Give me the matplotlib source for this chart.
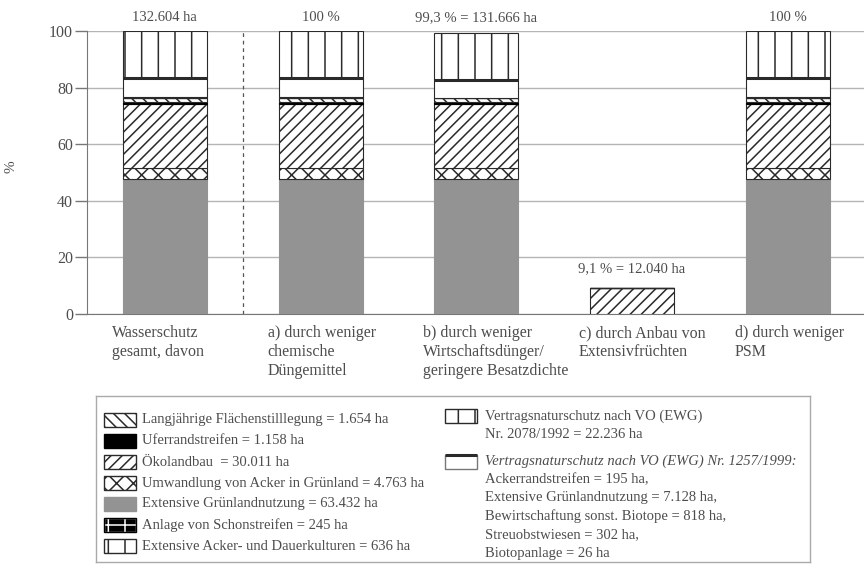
import matplotlib
matplotlib.use("Agg")
import matplotlib.pyplot as plt
from matplotlib.patches import Rectangle
import numpy as np

plt.rcParams['font.family'] = ['Liberation Serif', 'DejaVu Serif']
plt.rcParams['hatch.linewidth'] = 1.1

# Flächen in ha (Wasserschutz gesamt, a, b, c, d)
kategorien = ["Wasserschutz\ngesamt, davon",
              "a) durch weniger\nchemische\nDüngemittel",
              "b) durch weniger\nWirtschaftsdünger/\ngeringere Besatzdichte",
              "c) durch Anbau von\nExtensivfrüchten",
              "d) durch weniger\nPSM"]
gesamt_ha = 132604
gruenland_ha = [63432, 63432, 63432, 0, 63432]
umwandlung_ha = [4763, 4763, 4763, 0, 4763]
oeko_ha = [30011, 30011, 30011, 12040, 30011]
ufer_ha = [1158, 1158, 1158, 0, 1158]
stilllegung_ha = [1654, 1654, 1654, 0, 1654]
schon_ha = [245, 245, 245, 0, 245]
acker_ha = [636, 636, 0, 0, 636]
vo1257_ha = [8469, 8469, 8167, 0, 8469]
vo2078_ha = [22236, 22236, 22236, 0, 22236]
kopf_labels = ["132.604 ha", "100 %", "99,3 % = 131.666 ha", "9,1 % = 12.040 ha", "100 %"]

textfarbe = '#4d4d4d'
grau = '#939393'
dunkel = '#2a2a2a'

layers = [
    (gruenland_ha, dict(facecolor=grau, edgecolor=grau)),
    (umwandlung_ha, dict(facecolor='white', edgecolor=dunkel, hatch='xx')),
    (oeko_ha, dict(facecolor='white', edgecolor=dunkel, hatch='///')),
    (ufer_ha, dict(facecolor='black', edgecolor='black')),
    (stilllegung_ha, dict(facecolor='white', edgecolor=dunkel, hatch='\\\\\\')),
    (schon_ha, dict(facecolor='black', edgecolor='black')),
    (acker_ha, dict(facecolor='white', edgecolor=dunkel, hatch='|')),
    (vo1257_ha, dict(facecolor='white', edgecolor=dunkel)),
    (vo2078_ha, dict(facecolor='white', edgecolor=dunkel, hatch='|')),
]

fig = plt.figure(figsize=(8.64, 5.64), dpi=100)
ax = fig.add_axes([87 / 864, 1 - 314 / 564, 1 - 87 / 864, 283 / 564])

x = np.arange(len(kategorien))
breite = 0.54
unten = np.zeros(len(x))
for i, (werte, stil) in enumerate(layers):
    prozent = np.array(werte) / gesamt_ha * 100
    bars = ax.bar(x, prozent, breite, bottom=unten, linewidth=0.8, zorder=3, **stil)
    if i == 7:
        for b in bars:
            if b.get_height() > 0:
                top = b.get_y() + b.get_height()
                ax.plot([b.get_x(), b.get_x() + b.get_width()], [top, top],
                        color=dunkel, lw=2.2, zorder=4, solid_capstyle='butt')
    unten += prozent

for xi, h, lab in zip(x, unten, kopf_labels):
    ypos = 102.5 if h > 50 else h + 4.5
    ax.text(xi, ypos, lab, ha='center', va='bottom', fontsize=10.5, color=textfarbe)

ax.axvline(0.5, color='#555555', lw=0.9, ls=(0, (3, 3)), zorder=2)

ax.set_xlim(-0.5, 4.49)
ax.set_ylim(0, 100)
ax.set_yticks([0, 20, 40, 60, 80, 100])
ax.yaxis.grid(True, color='#b5b5b5', lw=1, zorder=0)
ax.set_xticks([])
ax.tick_params(axis='y', length=9, width=1, color='#777777', pad=1,
               labelsize=11.5, labelcolor=textfarbe)
for s in ['top', 'right']:
    ax.spines[s].set_visible(False)
for s in ['left', 'bottom']:
    ax.spines[s].set_color('#777777')
ax.set_ylabel('%', fontsize=11, color=textfarbe)
ax.yaxis.set_label_coords(-0.09, 0.52)

for xi, lab in zip(x, kategorien):
    ax.text(xi - 0.34, -4.0, lab, ha='left', va='top', fontsize=11.5,
            color=textfarbe, linespacing=1.22, clip_on=False)

# Legende
lax = fig.add_axes([96 / 864, 1 - 562 / 564, 714 / 864, 166 / 564])
lax.set_xlim(0, 714)
lax.set_ylim(166, 0)
lax.set_xticks([])
lax.set_yticks([])
for s in lax.spines.values():
    s.set_color('#aaaaaa')
    s.set_linewidth(1)

links = [
    ("Langjährige Flächenstilllegung = 1.654 ha", dict(facecolor='white', edgecolor=dunkel, hatch='\\\\\\')),
    ("Uferrandstreifen = 1.158 ha", dict(facecolor='black', edgecolor='black')),
    ("Ökolandbau  = 30.011 ha", dict(facecolor='white', edgecolor=dunkel, hatch='///')),
    ("Umwandlung von Acker in Grünland = 4.763 ha", dict(facecolor='white', edgecolor=dunkel, hatch='xx')),
    ("Extensive Grünlandnutzung = 63.432 ha", dict(facecolor=grau, edgecolor=grau)),
    ("Anlage von Schonstreifen = 245 ha", dict(facecolor='black', edgecolor='white', hatch='+')),
    ("Extensive Acker- und Dauerkulturen = 636 ha", dict(facecolor='white', edgecolor=dunkel, hatch='|')),
]
for i, (txt, stil) in enumerate(links):
    yc = 24 + 21 * i
    lax.add_patch(Rectangle((8, yc - 7), 32, 14, lw=1, **stil))
    if stil.get('edgecolor') == 'white':
        lax.add_patch(Rectangle((8, yc - 7), 32, 14, lw=1, facecolor='none', edgecolor='black'))
    lax.text(46, yc, txt, va='center', ha='left', fontsize=10.5, color=textfarbe)

lax.add_patch(Rectangle((349, 13), 32, 14, lw=1, facecolor='white', edgecolor=dunkel, hatch='|'))
lax.text(389, 20, "Vertragsnaturschutz nach VO (EWG)", va='center', fontsize=10.5, color=textfarbe)
lax.text(389, 39, "Nr. 2078/1992 = 22.236 ha", va='center', fontsize=10.5, color=textfarbe)
lax.add_patch(Rectangle((349, 59), 32, 14, lw=1, facecolor='white', edgecolor='#777777'))
lax.plot([349, 381], [59, 59], color=dunkel, lw=2.2, solid_capstyle='butt')
lax.text(389, 65, "Vertragsnaturschutz nach VO (EWG) Nr. 1257/1999:", va='center',
         fontsize=10.5, color=textfarbe, style='italic')
rechts = ["Ackerrandstreifen = 195 ha,",
          "Extensive Grünlandnutzung = 7.128 ha,",
          "Bewirtschaftung sonst. Biotope = 818 ha,",
          "Streuobstwiesen = 302 ha,",
          "Biotopanlage = 26 ha"]
for i, txt in enumerate(rechts):
    lax.text(389, 83.5 + 18.5 * i, txt, va='center', fontsize=10.5, color=textfarbe)

fig.savefig('out.png', dpi=100)
